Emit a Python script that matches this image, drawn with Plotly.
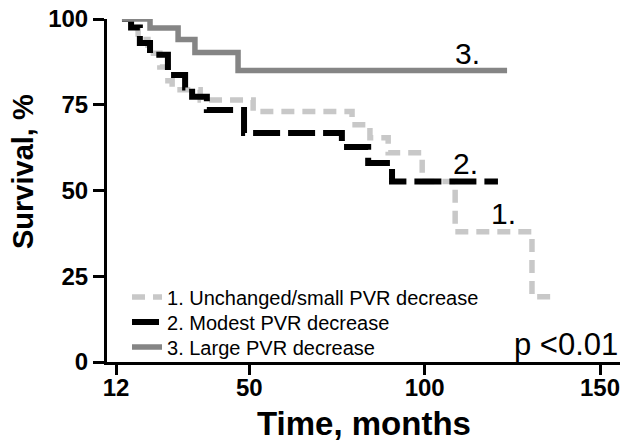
import plotly.graph_objects as go

# Kaplan-Meier curves (time in months, survival in %)
series_names = ["1. Unchanged/small PVR decrease", "2. Modest PVR decrease", "3. Large PVR decrease"]
curve_labels = ["1.", "2.", "3."]

t1 = [13.7, 16.3, 18.3, 21.1, 24.5, 26.8, 28.0, 36.0, 51.1, 79.3, 84.4, 89.6, 99.3, 108.7, 130.6, 136.6]
s1 = [100, 97.5, 94, 90, 86, 82, 79.4, 76.4, 73, 69.2, 65.4, 61, 52.6, 38, 19, 19]

t2 = [13.7, 16.3, 18.8, 21.7, 26.8, 31.7, 33.7, 37.9, 48.5, 76.4, 83.9, 90.7, 120.9]
s2 = [100, 97.5, 93, 89.6, 83.7, 80, 77.3, 73.5, 66.8, 62.7, 58, 52.6, 52.6]

t3 = [13.7, 21.7, 29.7, 34.5, 46.8, 123.5]
s3 = [100, 97.4, 94, 90.2, 85, 85]

x_ticks = [12, 50, 100, 150]
y_ticks = [0, 25, 50, 75, 100]

# label anchor points (data coords)
label_t = [122.6, 111.7, 112.1]
label_s = [43.2, 57.8, 90.0]

FONT = "Liberation Sans, Arial, sans-serif"

fig = go.Figure()
fig.add_trace(go.Scatter(x=t1, y=s1, mode="lines", line_shape="hv", name=series_names[0], legend="legend",
                         line=dict(color="#c8c8c8", width=5.5, dash="13px,8px")))
fig.add_trace(go.Scatter(x=t2, y=s2, mode="lines", line_shape="hv", name=series_names[1], legend="legend2",
                         line=dict(color="#000000", width=6, dash="27px,8px")))
fig.add_trace(go.Scatter(x=t3, y=s3, mode="lines", line_shape="hv", name=series_names[2], legend="legend3",
                         line=dict(color="#858585", width=5.5)))

for lt, ls, txt in zip(label_t, label_s, curve_labels):
    fig.add_annotation(x=lt, y=ls, text=txt, showarrow=False, xanchor="center", yanchor="middle",
                       font=dict(family=FONT, size=30, color="black"))

fig.add_annotation(xref="paper", yref="paper", x=1.0, y=0.05, text="p <0.01", showarrow=False,
                   xanchor="right", yanchor="middle", font=dict(family=FONT, size=31, color="black"))

fig.add_annotation(xref="paper", yref="paper", x=-0.165, y=0.555, text="Survival, %", textangle=-90,
                   showarrow=False, xanchor="center", yanchor="middle",
                   font=dict(family=FONT, size=29, color="black", weight="bold"))
fig.add_annotation(xref="paper", yref="paper", x=0.5, y=-0.178, text="Time, months",
                   showarrow=False, xanchor="center", yanchor="middle",
                   font=dict(family=FONT, size=33, color="black", weight="bold"))

leg_common = dict(x=0.039, xanchor="left", yanchor="middle", bgcolor="rgba(0,0,0,0)",
                  font=dict(family=FONT, size=20, color="black"), itemwidth=30)

fig.update_layout(
    width=624, height=446,
    margin=dict(l=107, r=4, t=19, b=84),
    paper_bgcolor="white", plot_bgcolor="white",
    showlegend=True,
    legend=dict(y=0.1895, **leg_common),
    legend2=dict(y=0.1166, **leg_common),
    legend3=dict(y=0.0437, **leg_common),
    xaxis=dict(range=[9.43, 155.7], tickvals=x_ticks, ticks="outside", ticklen=10, tickwidth=3,
               tickcolor="black", showline=True, linewidth=3, linecolor="black", showgrid=False,
               zeroline=False, ticklabelstandoff=-8,
               tickfont=dict(family=FONT, size=24, color="black", weight="bold")),
    yaxis=dict(range=[0, 100], tickvals=y_ticks, ticks="outside", ticklen=11, tickwidth=3,
               tickcolor="black", showline=True, linewidth=3, linecolor="black", showgrid=False,
               zeroline=False,
               tickfont=dict(family=FONT, size=24, color="black", weight="bold")),
)

fig.write_html("out.html")
